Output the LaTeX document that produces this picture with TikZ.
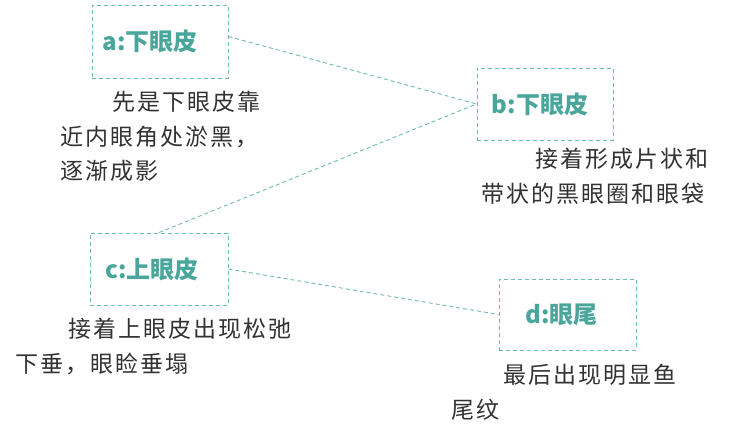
\documentclass[tikz,border=0pt]{standalone}
\usepackage{fontspec}
\newfontfamily\cjk{Noto Sans CJK SC}
\newfontfamily\cjkbody[LetterSpace=9]{Noto Sans CJK SC}
\definecolor{teal1}{RGB}{74,166,155}
\definecolor{teal2}{RGB}{110,186,176}
\definecolor{ink}{RGB}{50,50,50}
\begin{document}
\begin{tikzpicture}[x=1pt,y=-1pt,
  stagebox/.style={draw=teal2, dashed, dash pattern=on 4pt off 3pt, line width=0.9pt, minimum width=136pt, minimum height=72pt, inner sep=0pt},
  stagelabel/.style={text=teal1, font=\cjk\bfseries\fontsize{24}{26}\selectfont, inner sep=0pt},
  note/.style={text=ink, font=\cjkbody\fontsize{23}{34.5}\selectfont, align=left, anchor=north west, inner sep=0pt},
  link/.style={draw=teal2, dash pattern=on 4pt off 3pt, line width=0.9pt}]
\useasboundingbox (0,0) rectangle (744,433);
% stages
\node[stagebox, minimum height=73pt] (a) at (160,41.5) {};
\node[stagebox] (b) at (545,104) {};
\node[stagebox, minimum width=138pt] (c) at (159,269) {};
\node[stagebox, minimum width=137pt, minimum height=71pt] (d) at (567.5,314.5) {};
\node[stagelabel] (la) at ([xshift=-10pt]a.center) {a:下眼皮};
\node[stagelabel] (lb) at ([xshift=-5pt]b.center) {b:下眼皮};
\node[stagelabel] (lc) at ([xshift=-7pt]c.center) {c:上眼皮};
\node[stagelabel] (ld) at ([xshift=-6pt]d.center) {d:眼尾};
% notes
\node[note] (na) at (60,91) {\hspace*{52pt}先是下眼皮靠\\近内眼角处淤黑，\\逐渐成影};
\node[note] (nb) at (481,148) {\hspace*{54pt}接着形成片状和\\带状的黑眼圈和眼袋};
\node[note] (nc) at (15,318) {\hspace*{53pt}接着上眼皮出现松弛\\下垂，眼睑垂塌};
\node[note] (nd) at (451,364) {\hspace*{52pt}最后出现明显鱼\\尾纹};
% links
\draw[link] ([yshift=5pt]a.east) -- (b.west);
\draw[link] (c.north) -- (b.west);
\draw[link] (c.east) -- (d.west);
\end{tikzpicture}
\end{document}
